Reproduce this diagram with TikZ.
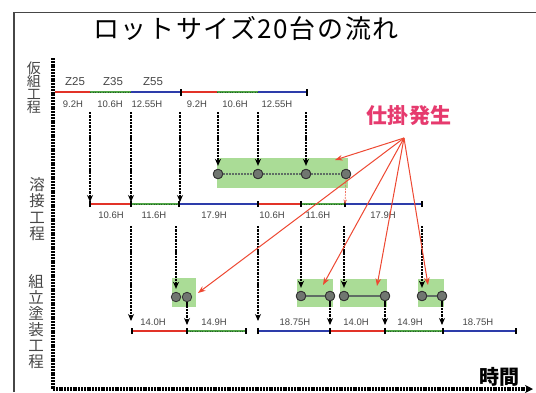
\documentclass[tikz,border=0pt]{standalone}
\usepackage{fontspec}
\setmainfont{Liberation Sans}
\newfontfamily\jp{Noto Sans CJK JP}
\usetikzlibrary{arrows.meta}
\definecolor{cred}{RGB}{226,50,40}
\definecolor{cgreen}{RGB}{80,165,70}
\definecolor{cgreend}{RGB}{35,95,40}
\definecolor{cblue}{RGB}{45,60,170}
\definecolor{boxg}{RGB}{170,220,150}
\definecolor{circg}{RGB}{112,118,112}
\definecolor{linkg}{RGB}{95,110,100}
\definecolor{arrred}{RGB}{238,72,50}
\definecolor{pinkt}{RGB}{230,58,110}
\definecolor{txtg}{RGB}{70,70,70}
\definecolor{framec}{RGB}{70,70,70}
\begin{document}
\begin{tikzpicture}[x=1pt,y=-1pt,
  seg/.style={line width=2.9pt},
  gdash/.style={cgreend,line width=1pt,dash pattern=on 1.2pt off 1.3pt},
  tickm/.style={line width=1.1pt,black},
  flow/.style={line width=1.6pt,dash pattern=on 2.4pt off 0.9pt,-{Stealth[length=7pt,width=6pt]}},
  wip/.style={arrred,line width=1pt,-{Stealth[length=7.5pt,width=5.5pt]}},
  lbl/.style={font=\fontsize{9.5}{9.5}\selectfont,text=txtg,inner sep=0},
  zlbl/.style={font=\fontsize{11.5}{11.5}\selectfont,text=txtg,inner sep=0},
  vlbl/.style={font=\jp\fontsize{14}{16}\selectfont,text=txtg,inner sep=0,align=center},
  dot/.style={circle,fill=circg,draw=black!80,line width=0.8pt,minimum size=9.5pt,inner sep=0},
  gbox/.style={fill=boxg,inner sep=0,anchor=north west},
  axis/.style={line width=3.2pt,dash pattern=on 2pt off 0.8pt}
]
\useasboundingbox (0,0) rectangle (536,392);
\fill[white] (0,0) rectangle (536,392);
% frame
\draw[framec,line width=1.8pt] (14,392) -- (14,12.5) -- (536,12.5);
% title
\node[inner sep=0,font=\jp\fontsize{26}{26}\selectfont\addfontfeature{LetterSpace=6}] (title) at (246,28) {ロットサイズ20台の流れ};
% axes
\coordinate (ax0) at (53,58);
\coordinate (axo) at (53,389);
\coordinate (axe) at (533,389);
\draw[axis] (ax0) -- (axo);
\draw[axis,-{Stealth[length=8pt,width=8pt]}] (axo) -- (axe);
% side labels
\node[vlbl] (l1) at (34,88) {仮\\[-3pt]組\\[-3pt]工\\[-3pt]程};
\node[vlbl,font=\jp\fontsize{15.5}{17.5}\selectfont] (l2) at (37,209) {溶\\[-1pt]接\\[-1pt]工\\[-1pt]程};
\node[vlbl,font=\jp\fontsize{15.5}{17.5}\selectfont] (l3) at (36,322) {組\\[-1.5pt]立\\[-1.5pt]塗\\[-1.5pt]装\\[-1.5pt]工\\[-1.5pt]程};
\node[inner sep=0,font=\jp\bfseries\fontsize{20}{20}\selectfont] (jikan) at (499,377) {時間};
\node[inner sep=0,text=pinkt,font=\jp\bfseries\fontsize{21}{21}\selectfont\addfontfeature{LetterSpace=3}] (shikake) at (409,116) {仕掛発生};
% ---------- top line (仮組)
\foreach \n/\x in {0/55,1/90,2/131,3/181,4/217,5/258,6/307}{\coordinate (t\n) at (\x,92);}
\draw[seg,cred] (t0) -- (t1); \draw[seg,cgreen] (t1) -- (t2); \draw[seg,cblue] (t2) -- (t3);
\draw[seg,cred] (t3) -- (t4); \draw[seg,cgreen] (t4) -- (t5); \draw[seg,cblue] (t5) -- (t6);
\draw[gdash] (t1) -- (t2); \draw[gdash] (t4) -- (t5);
\foreach \n in {3,6}{\draw[tickm] ([yshift=-3.5pt]t\n) -- ([yshift=3.5pt]t\n);}
\node[zlbl] (z1) at (75,82) {Z25};
\node[zlbl] (z2) at (113,82) {Z35};
\node[zlbl] (z3) at (153,82) {Z55};
\foreach \x/\t in {73/9.2H,110/10.6H,147/12.55H,197/9.2H,235/10.6H,277/12.55H}{\node[lbl] at (\x,104) {\t};}
% ---------- weld line (溶接)
\foreach \n/\x in {0/90,1/131,2/179,3/258,4/301,5/345,6/422}{\coordinate (w\n) at (\x,204);}
\draw[seg,cred] (w0) -- (w1); \draw[seg,cgreen] (w1) -- (w2); \draw[seg,cblue] (w2) -- (w3);
\draw[seg,cred] (w3) -- (w4); \draw[seg,cgreen] (w4) -- (w5); \draw[seg,cblue] (w5) -- (w6);
\draw[gdash] (w1) -- (w2); \draw[gdash] (w4) -- (w5);
\foreach \n in {0,1,2,3,4,5,6}{\draw[tickm] ([yshift=-3pt]w\n) -- ([yshift=3pt]w\n);}
\foreach \x/\t in {111/10.6H,154/11.6H,214/17.9H,272/10.6H,318/11.6H,383/17.9H}{\node[lbl] at (\x,215) {\t};}
% weld WIP box
\node[gbox,minimum width=131pt,minimum height=30pt] (wbox) at (217,158) {};
\node[dot] (c1) at (218,174) {};
\node[dot] (c2) at (258,174) {};
\node[dot] (c3) at (306,174) {};
\node[dot] (c4) at (346,174) {};
\draw[linkg,line width=1.8pt,dash pattern=on 2pt off 1pt] (c1) -- (c2) -- (c3) -- (c4);
\foreach \n in {1,2,3,4}{\node[dot] at (c\n) {};}
\draw[arrred!80,line width=0.7pt,dash pattern=on 2pt off 1pt,-{Stealth[length=4.5pt,width=3.5pt]}] (c4.south) -- (w5);
% arrows top -> weld
\foreach \n/\x in {1/90,2/131,3/180}{\coordinate (ts\n) at (\x,112); \coordinate (te\n) at (\x,202);
  \draw[flow] (ts\n) -- (te\n);}
\foreach \n/\x in {4/218,5/258,6/306}{\coordinate (ts\n) at (\x,112);}
\draw[flow,shorten >=3pt] (ts4) -- (c1.north);
\draw[flow,shorten >=3pt] (ts5) -- (c2.north);
\draw[flow,shorten >=3pt] (ts6) -- (c3.north);
% ---------- assembly line (組立塗装)
\foreach \n/\x in {0/132,1/187,2/246,3/258,4/330,5/385,6/443,7/516}{\coordinate (a\n) at (\x,331);}
\draw[seg,cred] (a0) -- (a1); \draw[seg,cgreen] (a1) -- (a2);
\draw[seg,cblue] (a3) -- (a4); \draw[seg,cred] (a4) -- (a5); \draw[seg,cgreen] (a5) -- (a6); \draw[seg,cblue] (a6) -- (a7);
\draw[gdash] (a1) -- (a2); \draw[gdash] (a5) -- (a6);
\foreach \n in {0,1,2,3,4,5,6,7}{\draw[tickm] ([yshift=-3pt]a\n) -- ([yshift=3pt]a\n);}
\foreach \x/\t in {153/14.0H,214/14.9H,295/18.75H,356/14.0H,410/14.9H,478/18.75H}{\node[lbl] at (\x,322) {\t};}
% assembly WIP boxes
\node[gbox,minimum width=24pt,minimum height=29pt] (b1) at (172,278) {};
\node[gbox,minimum width=36pt,minimum height=28pt] (b2) at (297,279) {};
\node[gbox,minimum width=47pt,minimum height=28pt] (b3) at (340,279) {};
\node[gbox,minimum width=26pt,minimum height=28pt] (b4) at (418,279) {};
\node[dot] (p1) at (176,297) {}; \node[dot] (q1) at (187,297) {};
\node[dot] (p2) at (301,296) {}; \node[dot] (q2) at (330,296) {};
\node[dot] (p3) at (344,296) {}; \node[dot] (q3) at (385,296) {};
\node[dot] (p4) at (422,296) {}; \node[dot] (q4) at (442,296) {};
\foreach \n in {2,3,4}{\draw[linkg,line width=1.8pt] (p\n) -- (q\n); \node[dot] at (p\n) {}; \node[dot] at (q\n) {};}
% arrows weld -> assembly
\foreach \n/\x in {1/131,2/176,3/258,4/301,5/344,6/422}{\coordinate (ws\n) at (\x,226);}
\coordinate (ae1) at (131,321); \coordinate (ae3) at (258,321);
\draw[flow] (ws1) -- (ae1);
\draw[flow] (ws3) -- (ae3);
\draw[flow,shorten >=3pt] (ws2) -- (p1.north);
\draw[flow,shorten >=3pt] (ws4) -- (p2.north);
\draw[flow,shorten >=3pt] (ws5) -- (p3.north);
\draw[flow,shorten >=3pt] (ws6) -- (p4.north);
% arrows box -> line
\foreach \n/\x in {1/187,2/330,3/385,4/442}{\coordinate (qe\n) at (\x,325);
  \draw[flow] (q\n.south) -- (qe\n);}
% WIP red arrows
\coordinate (src) at (404,138);
\coordinate (r1) at (335,160);
\coordinate (r2) at (198,293);
\coordinate (r3) at (323,285);
\coordinate (r4) at (377,286);
\coordinate (r5) at (428,285);
\foreach \n in {1,...,5}{\draw[wip] (src) -- (r\n);}
\end{tikzpicture}
\end{document}
